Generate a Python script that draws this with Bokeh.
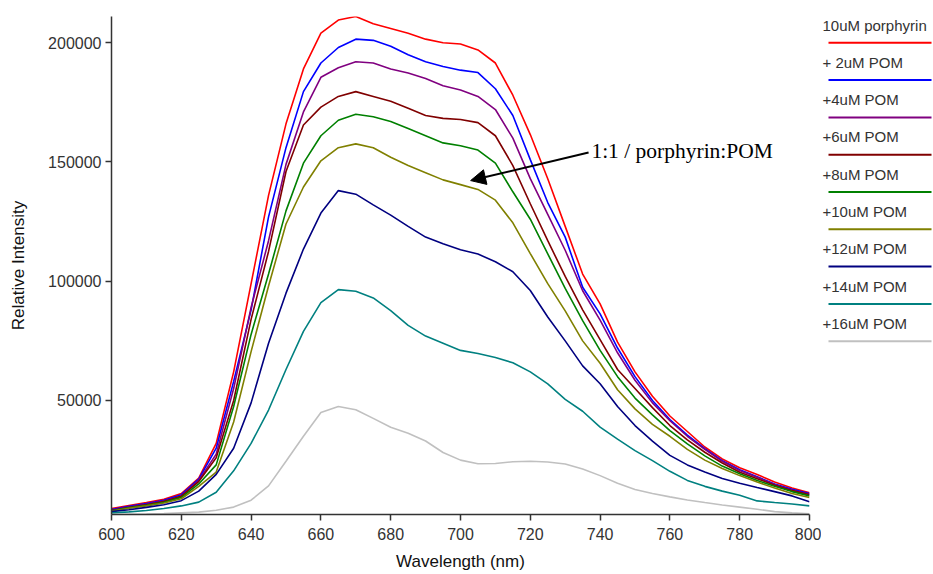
from bokeh.plotting import figure
from bokeh.models import Range1d, FixedTicker, NumeralTickFormatter, Arrow, NormalHead, Label
from bokeh.layouts import row
from bokeh.embed import file_html
from bokeh.resources import INLINE
from bokeh.core.properties import value

# ---------------- data ----------------
wavelength = [600, 605, 610, 615, 620, 625, 630, 635, 640, 645, 650, 655, 660, 665, 670,
              675, 680, 685, 690, 695, 700, 705, 710, 715, 720, 725, 730, 735, 740, 745,
              750, 755, 760, 765, 770, 775, 780, 785, 790, 795, 800]

porphyrin_10uM = [4700, 6000, 7200, 8600, 11000, 17500, 32000, 62000, 99000, 136000, 166000,
                  189000, 204000, 209500, 211000, 208000, 206000, 204000, 201500, 200000, 199500,
                  197000, 191500, 178000, 161500, 143000, 123000, 103000, 90500, 74500, 62000,
                  51800, 43500, 37000, 30500, 25500, 21800, 19000, 15800, 13300, 11300]
pom_2uM = [4300, 5600, 6800, 8200, 10500, 17000, 30000, 58000, 88000, 127000, 156000,
           179500, 191500, 198000, 201500, 201000, 198500, 195000, 192000, 190000, 188500,
           187500, 180700, 169500, 151000, 133000, 118500, 97500, 86300, 72000, 60000,
           50000, 42000, 35500, 29800, 24800, 21000, 18000, 15000, 12800, 11000]
pom_4uM = [4000, 5300, 6500, 7800, 10000, 16500, 27500, 55000, 89000, 117000, 149000,
           171000, 185500, 189500, 192000, 191500, 189000, 187300, 185000, 182000, 180200,
           177500, 172000, 160000, 143000, 128000, 113000, 96000, 83700, 70000, 58500,
           49000, 41500, 35000, 29500, 24500, 20600, 17800, 14800, 12400, 10700]
pom_6uM = [3900, 5100, 6300, 7600, 9800, 16000, 26000, 50000, 84000, 112500, 146000,
           165500, 173000, 177500, 179500, 177500, 175500, 172500, 169500, 168300, 167800,
           166500, 161000, 148500, 132500, 117000, 102000, 88000, 75500, 63000, 55000,
           47000, 39500, 33500, 28300, 23800, 19900, 17200, 14500, 12200, 10500]
pom_8uM = [3800, 5000, 6100, 7300, 9300, 15000, 23000, 47500, 77700, 103000, 129500,
           149500, 161000, 167500, 170000, 169000, 167000, 164000, 161000, 158000, 156800,
           155000, 149500, 137500, 126000, 111500, 97000, 83500, 71000, 60000, 51000,
           44000, 37400, 31800, 26800, 22500, 19300, 16500, 14000, 11800, 10000]
pom_10uM = [3600, 4800, 5800, 7000, 8800, 14000, 20000, 41000, 70500, 98000, 124000,
            139500, 150500, 156000, 157600, 156000, 152000, 148500, 145500, 142500, 140500,
            138500, 134000, 124500, 111600, 99000, 87600, 75000, 65600, 54500, 46500,
            40000, 35000, 29500, 25000, 21500, 18500, 15800, 13300, 11000, 9300]
pom_12uM = [3400, 4200, 5200, 6300, 8000, 12000, 19000, 30000, 49000, 74000, 95000,
            113500, 128600, 138000, 136500, 132000, 127700, 123000, 118500, 115700, 113200,
            111400, 108200, 104000, 96100, 85000, 75000, 64500, 57000, 47500, 39500,
            33000, 27000, 23000, 20000, 17300, 15300, 13500, 11800, 10000, 7500]
pom_14uM = [2900, 3300, 3900, 4700, 5800, 7400, 11500, 20500, 32000, 46000, 63000,
            79000, 91000, 96500, 95800, 93000, 87700, 81500, 77000, 74000, 71000,
            69700, 68000, 65800, 62000, 57000, 50500, 45500, 38800, 33800, 29000,
            24800, 20300, 16500, 14000, 12000, 10300, 7900, 7200, 6600, 5800]
pom_16uM = [2200, 2300, 2400, 2600, 2900, 3200, 4000, 5300, 8200, 14200, 24500,
            35000, 45000, 47500, 46100, 42500, 38800, 36300, 33000, 28200, 25000,
            23500, 23600, 24300, 24500, 24200, 23400, 21300, 18500, 15300, 12700,
            11000, 9600, 8300, 7200, 6200, 5300, 4400, 3400, 2900, 2500]

series_values = [porphyrin_10uM, pom_2uM, pom_4uM, pom_6uM, pom_8uM,
                 pom_10uM, pom_12uM, pom_14uM, pom_16uM]
series_labels = ["10uM porphyrin", "+ 2uM POM", "+4uM POM", "+6uM POM", "+8uM POM",
                 "+10uM POM", "+12uM POM", "+14uM POM", "+16uM POM"]
series_colors = ["#FF0000", "#0000FF", "#800080", "#800000", "#008000",
                 "#808000", "#000080", "#008080", "#C0C0C0"]

x_ticks = [600, 620, 640, 660, 680, 700, 720, 740, 760, 780, 800]
y_ticks = [50000, 100000, 150000, 200000]

annotation_text = "1:1 / porphyrin:POM"

# ---------------- main plot ----------------
p = figure(width=821, height=574, x_range=Range1d(600, 800), y_range=Range1d(2200, 211000),
           output_backend="svg", toolbar_location=None,
           min_border_left=111, min_border_right=12, min_border_top=16, min_border_bottom=60)
p.outline_line_color = None
p.xgrid.visible = False
p.ygrid.visible = False
p.background_fill_color = "white"
p.border_fill_color = "white"

for vals, col in zip(series_values, series_colors):
    p.line(wavelength, vals, line_color=col, line_width=1.6)

for ax in (p.xaxis[0], p.yaxis[0]):
    ax.minor_tick_line_color = None
    ax.major_tick_in = 0
    ax.major_tick_out = 6
    ax.axis_line_color = "#333333"
    ax.axis_line_width = 1.5
    ax.major_tick_line_color = "#333333"
    ax.major_tick_line_width = 1.5
    ax.major_label_text_font = "Liberation Sans"
    ax.major_label_text_font_size = "16px"
    ax.major_label_text_color = "#333333"
    ax.axis_label_text_font = "Liberation Sans"
    ax.axis_label_text_font_size = "17px"
    ax.axis_label_text_font_style = "normal"
    ax.axis_label_text_color = "#111111"

p.xaxis.ticker = FixedTicker(ticks=x_ticks)
p.yaxis.ticker = FixedTicker(ticks=y_ticks)
p.yaxis.formatter = NumeralTickFormatter(format="0")
p.xaxis.axis_label = "Wavelength (nm)"
p.yaxis.axis_label = "Relative Intensity"
p.xaxis.major_label_standoff = 7
p.yaxis.major_label_standoff = 4
p.xaxis.axis_label_standoff = 9
p.yaxis.axis_label_standoff = 17

p.add_layout(Arrow(end=NormalHead(size=15, fill_color="black", line_color="black", line_width=1),
                   x_start=736.7, y_start=154000, x_end=702.9, y_end=142200,
                   line_width=2, line_color="black"))
p.add_layout(Label(x=737.5, y=154500, text=annotation_text, text_font="Liberation Serif",
                   text_font_size="21.5px", text_baseline="middle", text_align="left",
                   text_color="black"))

# ---------------- legend panel ----------------
# frame of this panel is aligned with the main frame (pixel rows 16..514)
leg = figure(width=112, height=574, x_range=Range1d(0, 112), y_range=Range1d(514, 16),
             output_backend="svg", toolbar_location=None,
             x_axis_location=None, y_axis_location=None,
             min_border_left=0, min_border_right=0, min_border_top=16, min_border_bottom=60)
leg.outline_line_color = None
leg.xgrid.visible = False
leg.ygrid.visible = False

n = len(series_labels)
step = 37.3
text_y = [24.5 + i * step for i in range(n)]
line_y = [42.3 + i * step for i in range(n)]
leg.text(x=[1] * n, y=text_y, text=series_labels, text_baseline="middle", text_align="left",
         text_font=value("Liberation Sans"), text_font_size="15px", text_color="#333333")
leg.segment(x0=[7] * n, y0=line_y, x1=[110] * n, y1=line_y, line_color=series_colors,
            line_width=2)

layout = row(p, leg)
open("out.html", "w").write(file_html(layout, INLINE))
